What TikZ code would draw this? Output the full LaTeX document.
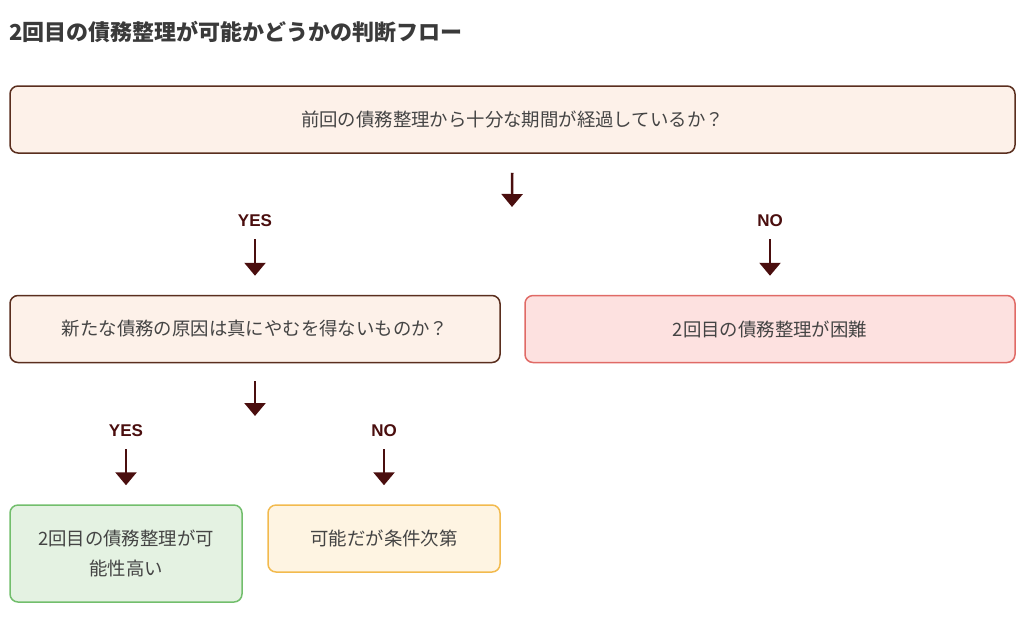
\documentclass[tikz,border=0pt]{standalone}
\usepackage{fontspec}
\setmainfont{Noto Sans CJK JP}
\newfontfamily\latinbold{Liberation Sans}
\usetikzlibrary{arrows.meta}
\definecolor{ink}{HTML}{444444}
\definecolor{brownline}{HTML}{5A2E1E}
\definecolor{peach}{HTML}{FDF1E9}
\definecolor{redline}{HTML}{E06A66}
\definecolor{redfill}{HTML}{FDE1E0}
\definecolor{greenline}{HTML}{72BE6C}
\definecolor{greenfill}{HTML}{E4F2E2}
\definecolor{orangeline}{HTML}{F2BA4E}
\definecolor{orangefill}{HTML}{FEF4E2}
\definecolor{arrowcol}{HTML}{4A0E0E}
\begin{document}
\begin{tikzpicture}[x=1pt,y=-1pt,
  box/.style={rectangle, rounded corners=8pt, line width=1.5pt, text=ink,
    font=\fontsize{18.4}{30}\selectfont, align=center, inner sep=0pt},
  ask/.style={box, draw=brownline, fill=peach},
  label/.style={text=arrowcol, font=\latinbold\fontsize{17}{18}\selectfont\bfseries, inner sep=0pt},
  flow/.style={draw=arrowcol, line width=2.6pt, -{Triangle[width=21pt,length=13pt]}}]
\useasboundingbox (0,0) rectangle (1024,625);
\node[anchor=west, text=ink!85!black, font=\fontsize{22}{24}\selectfont\bfseries, inner sep=0pt] (title) at (9,32){2回目の債務整理が可能かどうかの判断フロー};

\node[ask, minimum width=1005pt, minimum height=67pt] (q1) at (512.5,119.5){前回の債務整理から十分な期間が経過しているか？};
\coordinate (q1out) at (512,207);
\draw[flow, shorten <=19pt](q1) -- (q1out);

\node[label] (yes1) at (255,221){YES};
\node[label] (no1) at (770,221){NO};

\node[ask, minimum width=490pt, minimum height=67pt] (q2) at (255,329){新たな債務の原因は真にやむを得ないものか？};
\node[box, draw=redline, fill=redfill, minimum width=490pt, minimum height=67pt] (hard) at (770,329){2回目の債務整理が困難};
\draw[flow, shorten <=12pt, shorten >=19pt](yes1) -- (q2);
\draw[flow, shorten <=12pt, shorten >=19pt](no1) -- (hard);

\coordinate (q2out) at (255,416);
\draw[flow, shorten <=18pt](q2) -- (q2out);

\node[label] (yes2) at (126,431){YES};
\node[label] (no2) at (384,431){NO};

\node[box, draw=greenline, fill=greenfill, minimum width=232pt, minimum height=97pt] (ok) at (126,553.5){2回目の債務整理が可\\能性高い};
\node[box, draw=orangeline, fill=orangefill, minimum width=232pt, minimum height=67pt] (maybe) at (384,538.5){可能だが条件次第};
\draw[flow, shorten <=12pt, shorten >=19pt](yes2) -- (ok);
\draw[flow, shorten <=12pt, shorten >=19pt](no2) -- (maybe);

\end{tikzpicture}
\end{document}
